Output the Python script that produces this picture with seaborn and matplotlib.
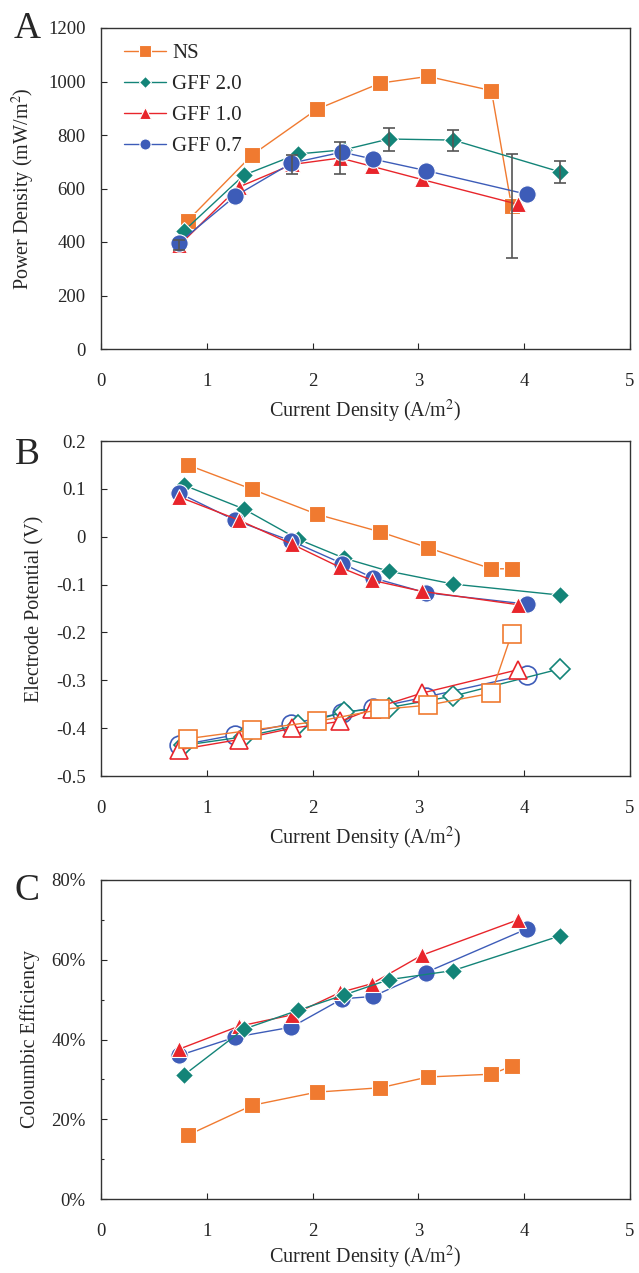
import numpy as np
import pandas as pd
import seaborn as sns
import matplotlib.pyplot as plt
from matplotlib.ticker import PercentFormatter, MultipleLocator

sns.set_style("ticks")
plt.rcParams['font.family'] = ['Liberation Serif', 'DejaVu Serif']
plt.rcParams['mathtext.fontset'] = 'stix'

series = ['NS', 'GFF 2.0', 'GFF 1.0', 'GFF 0.7']
colors = {'NS': '#F07A30', 'GFF 2.0': '#138478', 'GFF 1.0': '#E8252B', 'GFF 0.7': '#3D5CB8'}
markers = {'NS': 's', 'GFF 2.0': 'D', 'GFF 1.0': '^', 'GFF 0.7': 'o'}
msizes = {'NS': 12, 'GFF 2.0': 9.5, 'GFF 1.0': 12, 'GFF 0.7': 12.5}

# current density (A/m2)
cd_ns = [0.82, 1.43, 2.04, 2.64, 3.09, 3.69, 3.88]
cd_g20 = [0.78, 1.35, 1.86, 2.30, 2.72, 3.33, 4.34]
cd_g10 = [0.74, 1.30, 1.81, 2.26, 2.56, 3.03, 3.94]
cd_g07 = [0.74, 1.27, 1.80, 2.28, 2.57, 3.07, 4.03]

# A: power density (mW/m2)
pd_ns = [480, 726, 896, 994, 1019, 966, 535]
pd_g20 = [440, 650, 729, 745, 785, 781, 662]
pd_g10 = [388, 605, 690, 714, 683, 634, 541]
pd_g07 = [398, 572, 695, 736, 710, 667, 578]
# error bars (0 = none drawn)
err_ns = [0, 0, 0, 0, 0, 0, 195]
err_g20 = [0, 0, 0, 0, 43, 39, 40]
err_g10 = [18, 0, 35, 60, 0, 0, 0]
err_g07 = [0, 0, 0, 0, 0, 0, 0]

# B: anode (filled) and cathode (open) potentials (V)
an_ns = [0.150, 0.099, 0.047, 0.010, -0.023, -0.067, -0.067]
an_g20 = [0.108, 0.058, -0.005, -0.045, -0.072, -0.099, -0.122]
an_g10 = [0.083, 0.035, -0.016, -0.064, -0.091, -0.114, -0.142]
an_g07 = [0.091, 0.034, -0.009, -0.056, -0.086, -0.117, -0.141]
ca_ns = [-0.422, -0.404, -0.386, -0.361, -0.352, -0.327, -0.204]
ca_g20 = [-0.436, -0.418, -0.394, -0.366, -0.357, -0.333, -0.276]
ca_g10 = [-0.445, -0.424, -0.400, -0.386, -0.360, -0.327, -0.278]
ca_g07 = [-0.436, -0.414, -0.391, -0.368, -0.358, -0.335, -0.288]

# C: coulombic efficiency (%)
ce_ns = [16.0, 23.5, 26.8, 27.9, 30.6, 31.3, 33.3]
ce_g20 = [31.0, 42.6, 47.3, 51.2, 55.0, 57.3, 66.0]
ce_g10 = [37.6, 43.3, 46.2, 51.8, 54.0, 61.1, 70.0]
ce_g07 = [36.0, 40.6, 43.1, 50.2, 50.8, 56.8, 67.8]

cd = dict(zip(series, [cd_ns, cd_g20, cd_g10, cd_g07]))
power = dict(zip(series, [pd_ns, pd_g20, pd_g10, pd_g07]))
perr = dict(zip(series, [err_ns, err_g20, err_g10, err_g07]))
anode = dict(zip(series, [an_ns, an_g20, an_g10, an_g07]))
cathode = dict(zip(series, [ca_ns, ca_g20, ca_g10, ca_g07]))
ce = dict(zip(series, [ce_ns, ce_g20, ce_g10, ce_g07]))

W, H = 639, 1273
fig = plt.figure(figsize=(W / 100, H / 100), dpi=100)


def make_ax(top, bottom):
    return fig.add_axes([101 / W, 1 - bottom / H, 529 / W, (bottom - top) / H])


def style_ax(ax, ylabel, xpad=6):
    ax.set_xlim(0, 5)
    ax.set_xticks(range(6))
    ax.tick_params(axis='x', direction='in', length=4, pad=17, labelsize=13.5, width=0.8)
    ax.tick_params(axis='y', which='both', direction='in', pad=11, labelsize=13.5, width=0.8)
    ax.tick_params(axis='y', which='major', length=4)
    ax.tick_params(axis='y', which='minor', length=2.5)
    for s in ax.spines.values():
        s.set_linewidth(1.0)
        s.set_color('#333333')
    ax.set_xlabel('Current Density (A/m$^2$)', fontsize=14.5, labelpad=xpad)
    ax.set_ylabel(ylabel, fontsize=14.5, labelpad=8)


def draw(ax, xs, ys, s, open_marker=False, label=None):
    df = pd.DataFrame({'x': xs, 'y': ys})
    c = colors[s]
    sns.lineplot(data=df, x='x', y='y', ax=ax, color=c, sort=False, lw=1.0,
                 marker=markers[s], markersize=msizes[s] + (1 if open_marker else 0),
                 markerfacecolor='white' if open_marker else c,
                 markeredgecolor=c if open_marker else 'white',
                 markeredgewidth=1.2 if open_marker else 0.8,
                 label=label, legend=False)


# Panel A
axA = make_ax(28, 349)
for s in series:
    draw(axA, cd[s], power[s], s, label=s)
    x = np.array(cd[s]); y = np.array(power[s]); e = np.array(perr[s])
    m = e > 0
    if m.any():
        axA.errorbar(x[m], y[m], yerr=e[m], fmt='none', ecolor='#555555',
                     elinewidth=1.2, capsize=4, capthick=1.2, zorder=2.5)
axA.set_ylim(0, 1200)
axA.set_yticks(range(0, 1201, 200))
style_ax(axA, 'Power Density (mW/m$^2$)')
h, l = axA.get_legend_handles_labels()
leg = axA.legend(h[:4], l[:4], loc='upper left', bbox_to_anchor=(0.02, 0.99), frameon=False,
                 fontsize=15, handlelength=2.0, labelspacing=0.55, handletextpad=0.3,
                 borderaxespad=0.2)
for lh, s in zip(leg.legend_handles, series):
    lh.set_markersize(8 if s != 'GFF 2.0' else 6)

# Panel B
axB = make_ax(441, 776)
for s in ['NS', 'GFF 2.0', 'GFF 0.7', 'GFF 1.0']:
    draw(axB, cd[s], anode[s], s)
for s in ['GFF 0.7', 'GFF 2.0', 'GFF 1.0', 'NS']:
    draw(axB, cd[s], cathode[s], s, open_marker=True)
axB.set_ylim(-0.5, 0.2)
axB.set_yticks(np.round(np.arange(-0.5, 0.21, 0.1), 1))
axB.set_yticklabels(['-0.5', '-0.4', '-0.3', '-0.2', '-0.1', '0', '0.1', '0.2'])
style_ax(axB, 'Electrode Potential (V)')

# Panel C
axC = make_ax(880, 1199)
for s in ['NS', 'GFF 0.7', 'GFF 1.0', 'GFF 2.0']:
    draw(axC, cd[s], ce[s], s)
axC.set_ylim(0, 80)
axC.set_yticks(range(0, 81, 20))
axC.yaxis.set_minor_locator(MultipleLocator(10))
axC.yaxis.set_major_formatter(PercentFormatter(decimals=0))
style_ax(axC, 'Coloumbic Efficiency', xpad=3)

for letter, ytop in [('A', 12), ('B', 438), ('C', 873)]:
    fig.text(27 / W, 1 - ytop / H, letter, fontsize=27, ha='center', va='top')

fig.savefig('out.png', dpi=100)
